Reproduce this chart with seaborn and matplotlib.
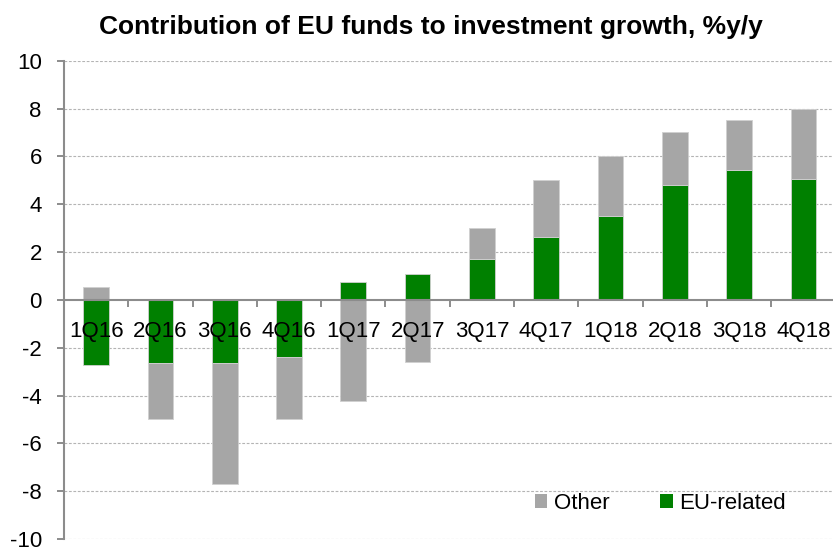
import matplotlib
matplotlib.use("Agg")
import matplotlib.pyplot as plt
from matplotlib.patches import Patch
import seaborn as sns
import numpy as np
import pandas as pd

# Quarterly contributions to investment growth, percentage points y/y
quarters = ["1Q16", "2Q16", "3Q16", "4Q16", "1Q17", "2Q17",
            "3Q17", "4Q17", "1Q18", "2Q18", "3Q18", "4Q18"]
eu_related = [-2.72, -2.65, -2.62, -2.37, 0.73, 1.09,
              1.71, 2.63, 3.51, 4.82, 5.43, 5.04]
other = [0.55, -2.34, -5.07, -2.63, -4.22, -2.58,
         1.29, 2.37, 2.49, 2.18, 2.08, 2.96]
y_ticks = [-10, -8, -6, -4, -2, 0, 2, 4, 6, 8, 10]

GREEN = "#008000"
GREY = "#A6A6A6"
AXIS_GREY = "#8c8c8c"

sns.set_theme(style="white")
plt.rcParams["font.family"] = ["Liberation Sans", "DejaVu Sans"]
plt.rcParams["axes.unicode_minus"] = False
plt.rcParams["text.color"] = "black"
plt.rcParams["xtick.labelcolor"] = "black"
plt.rcParams["ytick.labelcolor"] = "black"

eu = np.array(eu_related)
ot = np.array(other)
# "Other" stacks on top of the EU part when both share a sign, otherwise starts at zero
other_bottom = np.where(np.sign(ot) == np.sign(eu), eu, 0.0)
df = pd.DataFrame({"quarter": quarters, "eu": eu, "other": ot})

fig = plt.figure(figsize=(8.33, 5.47), dpi=100)
ax = fig.add_axes([0.0768, 0.0146, 0.9263, 0.8744])

sns.barplot(data=df, x="quarter", y="eu", color=GREEN, saturation=1,
            width=0.4, errorbar=None, ax=ax, zorder=2,
            edgecolor="#d0d0d0", linewidth=0.6)
sns.barplot(data=df, x="quarter", y="other", bottom=other_bottom, color=GREY,
            saturation=1, width=0.4, errorbar=None, ax=ax, zorder=2,
            edgecolor="#d0d0d0", linewidth=0.6)

ax.set_xlim(-0.5, len(quarters) - 0.5)
ax.set_ylim(-10, 10)
ax.set_xlabel("")
ax.set_ylabel("")

# dashed horizontal gridlines behind the bars
for v in y_ticks:
    if v != 0:
        ax.axhline(v, color="#b4b4b4", lw=0.8, ls=(0, (2.5, 1.5)), zorder=0)

ax.set_yticks(y_ticks)
ax.set_yticklabels([str(v) for v in y_ticks])
ax.tick_params(axis="y", which="major", left=True, length=5, width=1.4,
               color=AXIS_GREY, pad=11, labelsize=16, labelcolor="black")

ax.set_xticks(range(len(quarters)))
ax.set_xticklabels(quarters)
ax.set_xticks(np.arange(0.5, len(quarters) - 1, 1.0), minor=True)
ax.tick_params(axis="x", which="major", bottom=True, length=0, pad=15,
               labelsize=16, labelcolor="black")
ax.tick_params(axis="x", which="minor", bottom=True, length=5, width=1.4,
               color=AXIS_GREY)

for side in ["top", "right"]:
    ax.spines[side].set_visible(False)
ax.spines["left"].set_color(AXIS_GREY)
ax.spines["left"].set_linewidth(1.5)
ax.spines["bottom"].set_position(("data", 0))
ax.spines["bottom"].set_color(AXIS_GREY)
ax.spines["bottom"].set_linewidth(1.5)
ax.set_axisbelow(False)

fig.text(0.517, 0.9378, "Contribution of EU funds to investment growth, %y/y",
         ha="center", va="baseline", fontsize=19, fontweight="bold",
         color="black")

handles = [Patch(facecolor=GREY, edgecolor="none", label="Other"),
           Patch(facecolor=GREEN, edgecolor="none", label="EU-related")]
leg = ax.legend(handles=handles, loc="center left", bbox_to_anchor=(0.642, 0.080),
                bbox_transform=fig.transFigure, ncol=2, frameon=False, fontsize=16,
                handlelength=0.55, handleheight=0.55, handletextpad=0.3,
                columnspacing=2.3, borderpad=0, borderaxespad=0)
for t in leg.get_texts():
    t.set_color("black")

fig.savefig("out.png", dpi=100)
